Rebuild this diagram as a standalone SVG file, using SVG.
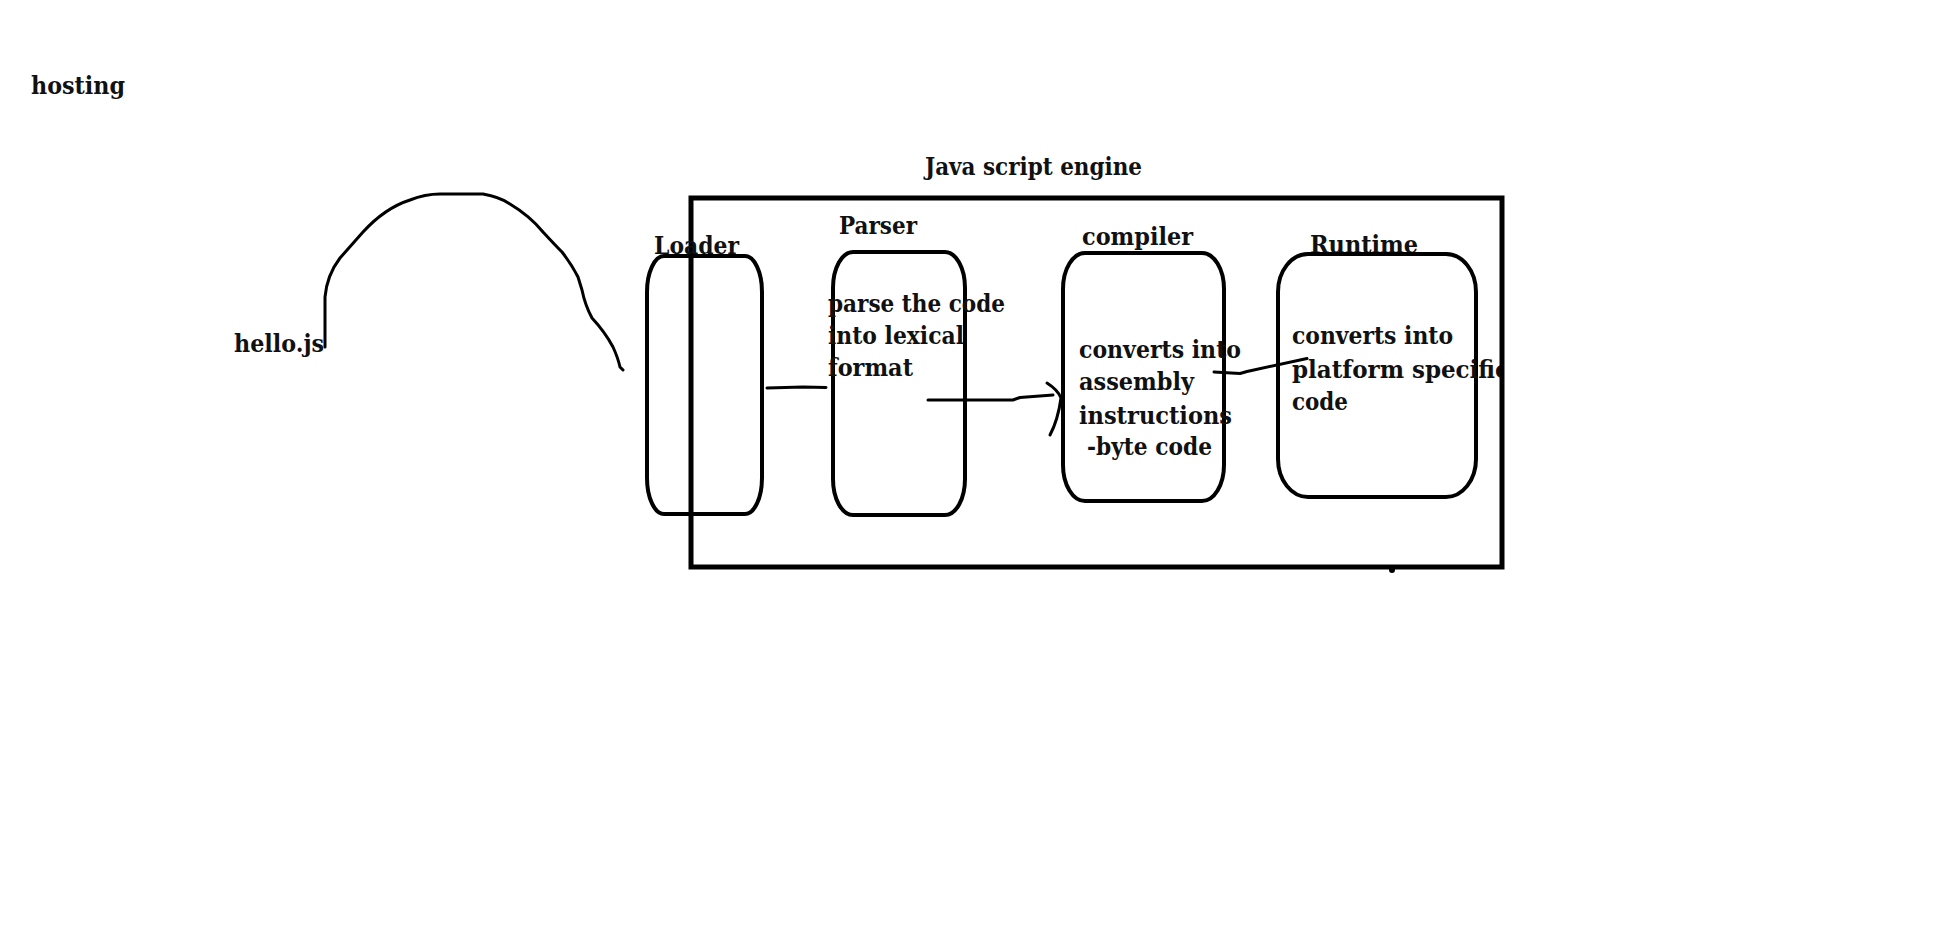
<svg xmlns="http://www.w3.org/2000/svg" width="1949" height="952" viewBox="0 0 1949 952">
<style>
text{font-family:"DejaVu Serif","Liberation Serif",serif;font-weight:bold;font-size:24px;fill:#111}
.box{fill:none;stroke:#000;stroke-width:4}
.frame{fill:none;stroke:#000;stroke-width:5}
.conn{fill:none;stroke:#000;stroke-width:3;stroke-linecap:round;stroke-linejoin:round}
</style>
<defs>
<clipPath id="engineClip"><rect x="0" y="0" width="1500" height="952"/></clipPath>
</defs>
<rect width="1949" height="952" fill="#fff"/>
<g id="hosting"><text x="31" y="94" textLength="94" lengthAdjust="spacingAndGlyphs">hosting</text></g>
<g id="hellojs"><text x="234" y="352" textLength="90" lengthAdjust="spacingAndGlyphs">hello.js</text></g>
<g id="engine">
<text x="925" y="175" textLength="217" lengthAdjust="spacingAndGlyphs">Java script engine</text>
<rect class="frame" x="691" y="198" width="811" height="369"/>
<circle cx="1392" cy="570" r="3" fill="#000"/>
</g>
<g id="loader">
<text x="654" y="254" textLength="85" lengthAdjust="spacingAndGlyphs">Loader</text>
<rect class="box" x="647" y="256" width="115" height="258" rx="17" ry="36"/>
</g>
<g id="parser">
<text x="839" y="234" textLength="78" lengthAdjust="spacingAndGlyphs">Parser</text>
<rect class="box" x="833" y="252" width="132" height="263" rx="20" ry="36"/>
<text x="828" y="312" textLength="177" lengthAdjust="spacingAndGlyphs">parse the code</text>
<text x="828" y="344" textLength="136" lengthAdjust="spacingAndGlyphs">into lexical</text>
<text x="828" y="376" textLength="85" lengthAdjust="spacingAndGlyphs">format</text>
</g>
<g id="compiler">
<text x="1082" y="245" textLength="111" lengthAdjust="spacingAndGlyphs">compiler</text>
<rect class="box" x="1063" y="253" width="161" height="248" rx="22" ry="36"/>
<text x="1079" y="358" textLength="162" lengthAdjust="spacingAndGlyphs">converts into</text>
<text x="1079" y="390" textLength="115" lengthAdjust="spacingAndGlyphs">assembly</text>
<text x="1079" y="424" textLength="153" lengthAdjust="spacingAndGlyphs">instructions</text>
<text x="1087" y="455" textLength="125" lengthAdjust="spacingAndGlyphs">-byte code</text>
</g>
<g id="runtime">
<text x="1310" y="253" textLength="108" lengthAdjust="spacingAndGlyphs">Runtime</text>
<rect class="box" x="1278" y="254" width="198" height="243" rx="30" ry="38"/>
<g clip-path="url(#engineClip)">
<text x="1292" y="344" textLength="161" lengthAdjust="spacingAndGlyphs">converts into</text>
<text x="1292" y="378" textLength="217" lengthAdjust="spacingAndGlyphs">platform specific</text>
<text x="1292" y="410" textLength="56" lengthAdjust="spacingAndGlyphs">code</text>
</g>
</g>
<g id="connectors">
<path class="conn" d="M325,347 L325,297 Q327,275 340,258 L363,232 Q385,208 410,200 Q425,194 440,194 L483,194 Q500,197 510,204 Q530,216 543,232 Q555,245 562,252 Q572,265 578,277 L582,290 Q585,305 592,318 Q605,332 613,347 Q618,358 620,367 L623,370"/>
<path class="conn" d="M767,388 L803,387 L826,387.5"/>
<path class="conn" d="M928,400 L1013,400 L1020,397.5 L1053,395"/>
<path class="conn" d="M1047,383 Q1058,390 1061,398 Q1058,420 1050,435"/>
<path class="conn" d="M1214,372 L1240,373.5 L1247,371.5 L1307,358.5"/>
</g>
</svg>
